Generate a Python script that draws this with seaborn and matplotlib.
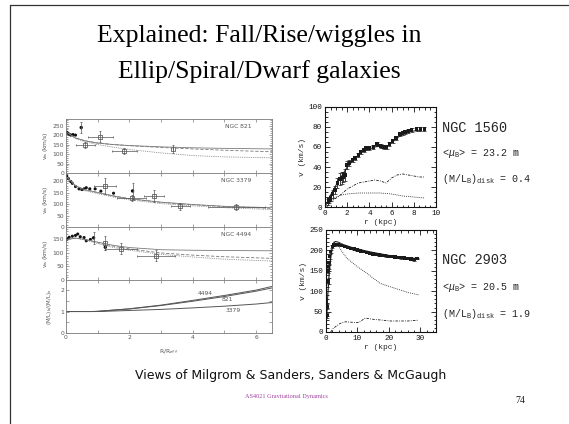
import numpy as np
import pandas as pd
import matplotlib
matplotlib.use("Agg")
import matplotlib.pyplot as plt
from matplotlib.lines import Line2D
from matplotlib.ticker import MultipleLocator
import seaborn as sns

# ---------------- data: left (ellipticals) ----------------
r_model = [0.05, 0.3, 0.6, 1.0, 1.5, 2.0, 3.0, 4.0, 5.0, 6.5]

n821_solid = [212, 185, 170, 158, 150, 145, 138, 133, 130, 127]
n821_dash = [212, 185, 170, 158, 150, 144, 135, 127, 120, 112]
n821_dot = [212, 182, 165, 150, 136, 124, 106, 92, 85, 80]
n821_fx = [0.02, 0.05, 0.1, 0.15, 0.22, 0.3]
n821_fy = [215, 210, 205, 200, 203, 200]
n821_ex = [0.48, 0.6, 1.08, 1.84, 3.37]
n821_ey = [240, 149, 191, 117, 128]
n821_exe = [0.0, 0.3, 0.4, 0.4, 0.0]
n821_eye = [30, 15, 30, 15, 20]
n821_efill = [True, False, False, False, False]

n3379_solid = [215, 180, 162, 150, 135, 123, 108, 98, 90, 84]
n3379_dash = [215, 180, 162, 150, 135, 123, 107, 97, 89, 81]
n3379_dot = [215, 178, 158, 145, 130, 118, 102, 92, 84, 76]
n3379_fx = [0.02, 0.08, 0.15, 0.2, 0.3, 0.41, 0.5, 0.57, 0.64, 0.75, 0.92, 1.1, 1.5]
n3379_fy = [222, 210, 198, 190, 176, 166, 163, 166, 171, 166, 166, 156, 147]
n3379_ex = [2.1, 1.24, 2.07, 2.77, 3.6, 5.37]
n3379_ey = [157, 178, 126, 134, 91, 87]
n3379_exe = [0.0, 0.35, 0.45, 0.32, 0.3, 0.9]
n3379_eye = [35, 35, 12, 25, 15, 15]
n3379_efill = [True, False, False, False, False, False]

n4494_solid = [150, 155, 150, 140, 128, 120, 112, 110, 109, 108]
n4494_dash = [150, 155, 150, 138, 125, 115, 100, 92, 86, 80]
n4494_dot = [150, 155, 148, 135, 120, 110, 95, 85, 77, 70]
n4494_fx = [0.0, 0.05, 0.1, 0.2, 0.3, 0.37, 0.45, 0.57, 0.64, 0.77]
n4494_fy = [148, 152, 158, 162, 165, 170, 160, 157, 145, 150]
n4494_ex = [0.87, 1.24, 1.24, 1.74, 2.85]
n4494_ey = [156, 121, 136, 115, 90]
n4494_exe = [0.0, 0.0, 0.0, 0.5, 0.6]
n4494_eye = [22, 10, 25, 20, 20]
n4494_efill = [True, True, False, False, False]

r_ml = [0, 0.8, 1, 2, 3, 4, 5, 6, 6.5]
ml_4494 = [1, 1, 1.01, 1.13, 1.30, 1.52, 1.75, 2.00, 2.17]
ml_821 = [1, 1, 1.01, 1.12, 1.28, 1.48, 1.70, 1.95, 2.10]
ml_3379 = [1, 1, 1.00, 1.05, 1.10, 1.17, 1.25, 1.35, 1.42]

# ---------------- data: NGC 1560 ----------------
n1560_x = [0.3, 0.36, 0.5, 0.7, 0.9, 1.1, 1.35, 1.5, 1.65, 1.8, 1.95, 2.2, 2.5, 2.7, 3.0,
           3.2, 3.5, 3.7, 4.0, 4.35, 4.7, 5.0, 5.3, 5.55, 5.8, 6.1, 6.4, 6.75, 7.0, 7.2,
           7.5, 7.8, 8.25, 8.6, 8.95]
n1560_y = [5, 7, 9, 13, 17, 24, 28, 29, 30, 32, 42, 44, 47, 49, 52,
           55, 57, 59, 59, 60, 63, 61, 60, 60, 63, 66, 69, 73, 74, 75,
           76, 77, 78, 78, 78]
n1560_ye = [3, 3, 3, 4, 4, 5, 6, 6, 5, 6, 4, 3, 2, 2, 2,
            2, 2, 2, 2, 2, 2, 2, 2, 2, 2, 2, 2, 2, 2, 2,
            2, 2, 2, 2, 2]
n1560_sol_x = [0, 0.5, 1, 1.5, 2, 2.5, 3, 3.5, 4, 4.5, 5, 5.5, 6, 6.5, 7, 7.5, 8, 8.6]
n1560_sol_y = [0, 12, 22, 31, 40, 46, 52, 56, 58, 60, 61, 60, 64, 69, 73, 75, 76, 77]
n1560_gas_x = [0.15, 0.5, 1, 1.5, 2, 2.5, 3, 3.5, 4, 4.5, 5, 5.5, 6, 6.5, 7, 7.5, 8, 8.5, 9]
n1560_gas_y = [0, 5, 9, 13, 18, 21, 24, 25, 26, 27, 26, 24, 29, 32, 33, 32, 31, 30, 30]
n1560_disk_x = [0.3, 0.5, 1, 1.5, 2, 3, 4, 5, 6, 7, 8, 9]
n1560_disk_y = [4, 6, 10, 12, 13, 14, 14, 14, 13, 11, 10, 9]

# ---------------- data: NGC 2903 ----------------
n2903_x = [0.3, 0.4, 0.8, 0.5, 0.8, 1.0, 1.2, 1.5, 2.0, 2.5, 3.0, 4, 5, 6, 7, 8, 9, 10,
           11, 12, 13, 14, 15, 16, 17, 18, 19, 20, 21, 22, 23, 24, 25, 26, 27, 28, 29]
n2903_y = [40, 62, 125, 150, 160, 170, 185, 197, 210, 215, 215, 214, 212, 210, 207, 205, 203, 201,
           199, 197, 195, 193, 191, 190, 189, 188, 187, 185, 185, 184, 183, 182, 181, 180, 179, 177, 180]
n2903_ye = [6, 6, 8, 6, 6, 5, 5, 4, 3, 3, 3, 2, 2, 2, 2, 2, 2, 2,
            2, 2, 2, 2, 2, 2, 2, 2, 2, 2, 2, 2, 2, 2, 2, 2, 2, 2, 2]
n2903_sol_x = [0, 0.5, 1, 1.5, 2, 2.5, 3, 4, 5, 6, 8, 10, 12, 15, 20, 25, 29]
n2903_sol_y = [0, 80, 140, 180, 205, 218, 222, 220, 216, 213, 208, 204, 200, 195, 188, 183, 180]
n2903_disk_x = [0, 0.5, 1, 1.5, 2, 2.5, 3, 4, 5, 6.6, 8.7, 10, 13, 15, 17.3, 20, 23.6, 26, 29.5]
n2903_disk_y = [0, 90, 150, 195, 215, 222, 220, 210, 198, 181, 168, 160, 144, 132, 119, 112, 103, 97, 91]
n2903_gas_x = [1.5, 2.3, 4.5, 6.1, 8, 10.3, 12.5, 15.1, 18, 20.4, 23, 26, 29.5]
n2903_gas_y = [0, 9, 21, 25, 24, 23, 34, 31, 29, 27, 27, 27, 29]

# ---------------- style ----------------
sns.set_theme(style="ticks")
plt.rcParams['font.family'] = ['DejaVu Sans']
plt.rcParams['mathtext.fontset'] = 'custom'
plt.rcParams['mathtext.rm'] = 'Liberation Mono'
plt.rcParams['mathtext.it'] = 'Liberation Mono:italic'

W, H = 569, 424
fig = plt.figure(figsize=(W / 100, H / 100), dpi=100)
fig.patch.set_facecolor('white')


def fx(px):
    return px / W


def fy(py):
    return 1 - py / H


def axes_px(x0, y0, x1, y1):
    return fig.add_axes([fx(x0), fy(y1), (x1 - x0) / W, (y1 - y0) / H])


# slide frame
fig.add_artist(Line2D([fx(10), fx(10)], [fy(5), 0], color='#333333', lw=0.9))
fig.add_artist(Line2D([fx(10), 1], [fy(5), fy(5)], color='#333333', lw=0.9))

# title
fig.text(fx(259), fy(42), "Explained: Fall/Rise/wiggles in", ha='center', va='baseline',
         fontsize=18.5, family='Liberation Serif', color='#000000')
fig.text(fx(259), fy(78), "Ellip/Spiral/Dwarf galaxies", ha='center', va='baseline',
         fontsize=18.5, family='Liberation Serif', color='#000000')

# ---------------- left panels ----------------
G = '#7a7a7a'
LW = 0.6
tick_fs = 4.3
panels = [
    ("NGC 821", n821_solid, n821_dash, n821_dot, n821_fx, n821_fy, n821_ex, n821_ey,
     n821_exe, n821_eye, n821_efill, 285, 119, 173),
    ("NGC 3379", n3379_solid, n3379_dash, n3379_dot, n3379_fx, n3379_fy, n3379_ex, n3379_ey,
     n3379_exe, n3379_eye, n3379_efill, 235, 173, 227),
    ("NGC 4494", n4494_solid, n4494_dash, n4494_dot, n4494_fx, n4494_fy, n4494_ex, n4494_ey,
     n4494_exe, n4494_eye, n4494_efill, 196, 227, 280),
]


def style_left(ax):
    for s in ax.spines.values():
        s.set_color(G)
        s.set_linewidth(0.6)
    ax.tick_params(which='both', direction='in', top=True, right=True, colors=G,
                   labelcolor='#555555', labelsize=tick_fs, width=0.5, pad=1.5)
    ax.tick_params(which='major', length=2.5)
    ax.tick_params(which='minor', length=1.3)
    ax.tick_params(axis='x', which='minor', length=2.5)
    ax.set_xlim(0, 6.5)
    ax.xaxis.set_major_locator(MultipleLocator(2))
    ax.xaxis.set_minor_locator(MultipleLocator(1))
    ax.set_facecolor('white')
    ax.grid(False)


for (name, sol, das, dot, fxs, fys, exs, eys, exe, eye, efill, ytop, y0, y1) in panels:
    ax = axes_px(66, y0, 272, y1)
    style_left(ax)
    sns.lineplot(x=r_model, y=sol, ax=ax, color=G, lw=LW, sort=False, estimator=None)
    sns.lineplot(x=r_model, y=das, ax=ax, color=G, lw=LW, linestyle=(0, (4, 2)),
                 sort=False, estimator=None)
    sns.lineplot(x=r_model, y=dot, ax=ax, color=G, lw=LW, linestyle=(0, (1, 1.2)),
                 sort=False, estimator=None)
    sns.scatterplot(x=fxs, y=fys, ax=ax, color='#111111', s=5, marker='o',
                    edgecolor='none', legend=False)
    ax.errorbar(exs, eys, xerr=exe, yerr=eye, fmt='none', ecolor='#555555',
                elinewidth=0.5, capsize=1.0, capthick=0.5)
    fill_x = [x for x, f in zip(exs, efill) if f]
    fill_y = [y for y, f in zip(eys, efill) if f]
    open_x = [x for x, f in zip(exs, efill) if not f]
    open_y = [y for y, f in zip(eys, efill) if not f]
    sns.scatterplot(x=fill_x, y=fill_y, ax=ax, color='#111111', s=6, marker='o',
                    edgecolor='none', legend=False)
    sns.scatterplot(x=open_x, y=open_y, ax=ax, color='white', s=6, marker='s',
                    edgecolor='#444444', linewidth=0.5, legend=False)
    ax.set_ylim(0, ytop)
    ax.yaxis.set_major_locator(MultipleLocator(50))
    ax.yaxis.set_minor_locator(MultipleLocator(10))
    ax.set_xticklabels([])
    ax.set_xlabel("")
    ax.set_ylabel(r"v$_{\rm m}$ (km/s)", fontsize=4.3, color='#555555', labelpad=2,
                  family='DejaVu Sans')
    ax.text(0.9, 0.86, name, transform=ax.transAxes, ha='right', va='center',
            fontsize=4.3, color='#555555')

ax4 = axes_px(66, 280, 272, 333)
style_left(ax4)
sns.lineplot(x=r_ml, y=ml_4494, ax=ax4, color='#555555', lw=0.7, sort=False, estimator=None)
sns.lineplot(x=r_ml, y=ml_821, ax=ax4, color='#555555', lw=0.7, sort=False, estimator=None)
sns.lineplot(x=r_ml, y=ml_3379, ax=ax4, color='#555555', lw=0.7, sort=False, estimator=None)
ax4.set_ylim(0, 2.47)
ax4.yaxis.set_major_locator(MultipleLocator(1))
ax4.yaxis.set_minor_locator(MultipleLocator(0.5))
ax4.tick_params(axis='y', which='minor', length=2.5)
ax4.set_xticks([0, 2, 4, 6])
ax4.set_xticklabels(["0", "2", "4", "6"])
ax4.text(4.38, 1.83, "4494", fontsize=4.3, color='#555555', ha='center', va='center')
ax4.text(5.1, 1.58, "821", fontsize=4.3, color='#555555', ha='center', va='center')
ax4.text(5.27, 1.06, "3379", fontsize=4.3, color='#555555', ha='center', va='center')
ax4.set_ylabel(r"(M/L)$_{\rm b}$/(M/L)$_{\rm o}$", fontsize=4.0, color='#555555', labelpad=4)
ax4.set_xlabel(r"R/R$_{\rm eff}$", fontsize=4.3, color='#555555', labelpad=5)

# ---------------- right panels ----------------
MONO = 'Liberation Mono'


def style_right(ax):
    for s in ax.spines.values():
        s.set_color('#111111')
        s.set_linewidth(0.8)
    ax.tick_params(which='both', direction='in', top=True, right=True, colors='#111111',
                   labelsize=5.5, width=0.6, pad=2)
    ax.tick_params(which='major', length=3.5)
    ax.tick_params(which='minor', length=1.8)
    for lab in ax.get_xticklabels() + ax.get_yticklabels():
        lab.set_family(MONO)
    ax.set_facecolor('white')
    ax.grid(False)


axa = axes_px(325, 107, 436, 207)
sns.lineplot(x=n1560_sol_x, y=n1560_sol_y, ax=axa, color='k', lw=0.7, sort=False, estimator=None)
sns.lineplot(x=n1560_gas_x, y=n1560_gas_y, ax=axa, color='k', lw=0.6, linestyle=(0, (3, 1.5, 1, 1.5)),
             sort=False, estimator=None)
sns.lineplot(x=n1560_disk_x, y=n1560_disk_y, ax=axa, color='k', lw=0.6, linestyle=(0, (1, 1.3)),
             sort=False, estimator=None)
axa.errorbar(n1560_x, n1560_y, yerr=n1560_ye, fmt='none', ecolor='k', elinewidth=0.6, capsize=1.2,
             capthick=0.5)
sns.scatterplot(x=n1560_x, y=n1560_y, ax=axa, color='k', s=6, marker='s', edgecolor='none',
                legend=False)
axa.set_xlim(0, 10)
axa.set_ylim(0, 100)
axa.xaxis.set_major_locator(MultipleLocator(2))
axa.xaxis.set_minor_locator(MultipleLocator(0.5))
axa.yaxis.set_major_locator(MultipleLocator(20))
axa.yaxis.set_minor_locator(MultipleLocator(5))
axa.set_xticks([0, 2, 4, 6, 8, 10])
axa.set_xticklabels(["0", "2", "4", "6", "8", "10"])
style_right(axa)
axa.set_xlabel("r (kpc)", fontsize=5.8, family=MONO, labelpad=1.5)
axa.set_ylabel("v (km/s)", fontsize=5.8, family=MONO, labelpad=2)

axb = axes_px(326, 230, 436, 332)
sns.lineplot(x=n2903_sol_x, y=n2903_sol_y, ax=axb, color='k', lw=0.7, sort=False, estimator=None)
sns.lineplot(x=n2903_disk_x, y=n2903_disk_y, ax=axb, color='k', lw=0.6, linestyle=(0, (1, 1.3)),
             sort=False, estimator=None)
sns.lineplot(x=n2903_gas_x, y=n2903_gas_y, ax=axb, color='k', lw=0.6, linestyle=(0, (3, 1.5, 1, 1.5)),
             sort=False, estimator=None)
axb.errorbar(n2903_x, n2903_y, yerr=n2903_ye, fmt='none', ecolor='k', elinewidth=0.6, capsize=1.2,
             capthick=0.5)
sns.scatterplot(x=n2903_x, y=n2903_y, ax=axb, color='k', s=6, marker='s', edgecolor='none',
                legend=False)
axb.set_xlim(0, 35)
axb.set_ylim(0, 250)
axb.xaxis.set_major_locator(MultipleLocator(10))
axb.xaxis.set_minor_locator(MultipleLocator(2))
axb.yaxis.set_major_locator(MultipleLocator(50))
axb.yaxis.set_minor_locator(MultipleLocator(10))
axb.set_xticks([0, 10, 20, 30])
axb.set_xticklabels(["0", "10", "20", "30"])
style_right(axb)
axb.set_xlabel("r (kpc)", fontsize=5.8, family=MONO, labelpad=1.5)
axb.set_ylabel("v (km/s)", fontsize=5.8, family=MONO, labelpad=2)

# right-side annotations
ann_fs = 7.2
name_fs = 9.8
fig.text(fx(442), fy(128), "NGC 1560", fontsize=name_fs, family=MONO, va='center', ha='left')
fig.text(fx(442), fy(154), r"<$\mu_{\rm B}$> = 23.2 m", fontsize=ann_fs, family=MONO,
         va='center', ha='left')
fig.text(fx(442), fy(179), r"(M/L$_{\rm B}$)$_{\rm disk}$ = 0.4", fontsize=ann_fs, family=MONO,
         va='center', ha='left')
fig.text(fx(442), fy(260), "NGC 2903", fontsize=name_fs, family=MONO, va='center', ha='left')
fig.text(fx(442), fy(288), r"<$\mu_{\rm B}$> = 20.5 m", fontsize=ann_fs, family=MONO,
         va='center', ha='left')
fig.text(fx(442), fy(314), r"(M/L$_{\rm B}$)$_{\rm disk}$ = 1.9", fontsize=ann_fs, family=MONO,
         va='center', ha='left')

# caption and footer
fig.text(fx(291), fy(379), "Views of Milgrom & Sanders, Sanders & McGaugh", ha='center',
         va='baseline', fontsize=9, family='DejaVu Sans', color='#111111')
fig.text(fx(286), fy(398), "AS4021 Gravitational Dynamics", ha='center', va='baseline',
         fontsize=4.5, family='Liberation Serif', color='#a040a0')
fig.text(fx(520), fy(403), "74", ha='center', va='baseline', fontsize=7,
         family='Liberation Serif', color='#222222')

fig.savefig("out.png", dpi=100)
